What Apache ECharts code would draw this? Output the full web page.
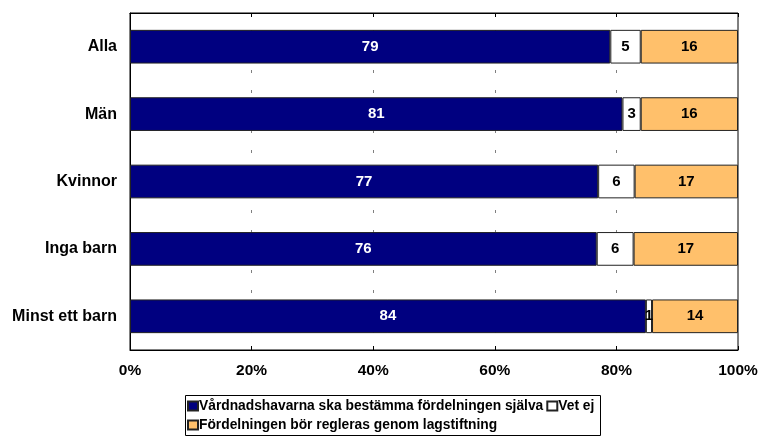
<!DOCTYPE html>
<html>
<head>
<meta charset="utf-8">
<script src="https://cdn.jsdelivr.net/npm/echarts@6/dist/echarts.min.js"></script>
<style>
  html, body { margin: 0; padding: 0; background: #fff; }
  #chart { width: 762px; height: 436px; }
</style>
</head>
<body>
<div id="chart"></div>
<script>
const categories = ['Alla', 'Män', 'Kvinnor', 'Inga barn', 'Minst ett barn']
const seriesNames = [
  'Vårdnadshavarna ska bestämma fördelningen själva',
  'Vet ej',
  'Fördelningen bör regleras genom lagstiftning'
]
const sjalva = [79, 81, 77, 76, 84]
const vetEj = [5, 3, 6, 6, 1]
const lag = [16, 16, 17, 17, 14]
const xTicks = ['0%', '20%', '40%', '60%', '80%', '100%']

const COLORS = ['#000080', '#ffffff', '#ffc06b']
const FONT = 'Liberation Sans, Arial, sans-serif'
const raw = [sjalva, vetEj, lag]

// 100% stacked: each row normalised to its own sum
const totals = categories.map((_, i) => raw.reduce((s, arr) => s + arr[i], 0))
const pct = arr => arr.map((v, i) => v / totals[i] * 100)

const legendText = { fontWeight: 'bold', fontSize: 13.8, color: '#000', padding: [0, 0, 0, -4], fontFamily: FONT }

const chart = echarts.init(document.getElementById('chart'))

chart.setOption({
  animation: false,
  textStyle: { fontFamily: FONT },
  grid: {
    left: 130, right: 24, top: 13, bottom: 86,
    show: true, borderColor: '#000', borderWidth: 1
  },
  xAxis: [
    {
      type: 'value', min: 0, max: 100, interval: 20,
      axisLine: { show: true, lineStyle: { color: '#000' } },
      axisTick: { show: true, inside: true, length: 4, lineStyle: { color: '#000' } },
      axisLabel: {
        formatter: (v) => xTicks[v / 20], margin: 13,
        color: '#000', fontWeight: 'bold', fontSize: 15.5, fontFamily: FONT
      },
      splitLine: { show: true, lineStyle: { color: '#808080', type: [3, 17], dashOffset: 3 } }
    },
    {
      type: 'value', position: 'top', min: 0, max: 100, interval: 20,
      axisLine: { show: true, lineStyle: { color: '#000' } },
      axisTick: { show: true, inside: true, length: 4, lineStyle: { color: '#000' } },
      axisLabel: { show: false },
      splitLine: { show: false }
    }
  ],
  yAxis: {
    type: 'category', data: categories, inverse: true,
    axisLine: { show: true, lineStyle: { color: '#000' } },
    axisTick: { show: false },
    axisLabel: { color: '#000', fontWeight: 'bold', fontSize: 16, margin: 13, fontFamily: FONT }
  },
  legend: [
    {
      data: [seriesNames[0], seriesNames[1]],
      left: 187, top: 399, itemWidth: 10, itemHeight: 9, itemGap: 3, padding: 0,
      icon: 'rect', textStyle: legendText
    },
    {
      data: [seriesNames[2]],
      left: 187, top: 418, itemWidth: 10, itemHeight: 9, padding: 0,
      icon: 'rect', textStyle: legendText
    }
  ],
  graphic: [{
    type: 'rect', left: 183, top: 393,
    shape: { width: 415, height: 40 },
    style: { fill: 'none', stroke: '#000', lineWidth: 1 }
  }],
  series: raw.map((arr, si) => ({
    name: seriesNames[si],
    type: 'bar', stack: 'total', barWidth: '50%',
    data: pct(arr),
    itemStyle: { color: COLORS[si], borderColor: '#222', borderWidth: 1 },
    label: {
      show: true, position: 'inside',
      formatter: p => String(arr[p.dataIndex]),
      color: si === 0 ? '#fff' : '#000',
      fontWeight: 'bold', fontSize: 15, fontFamily: FONT
    }
  }))
})
</script>
</body>
</html>
